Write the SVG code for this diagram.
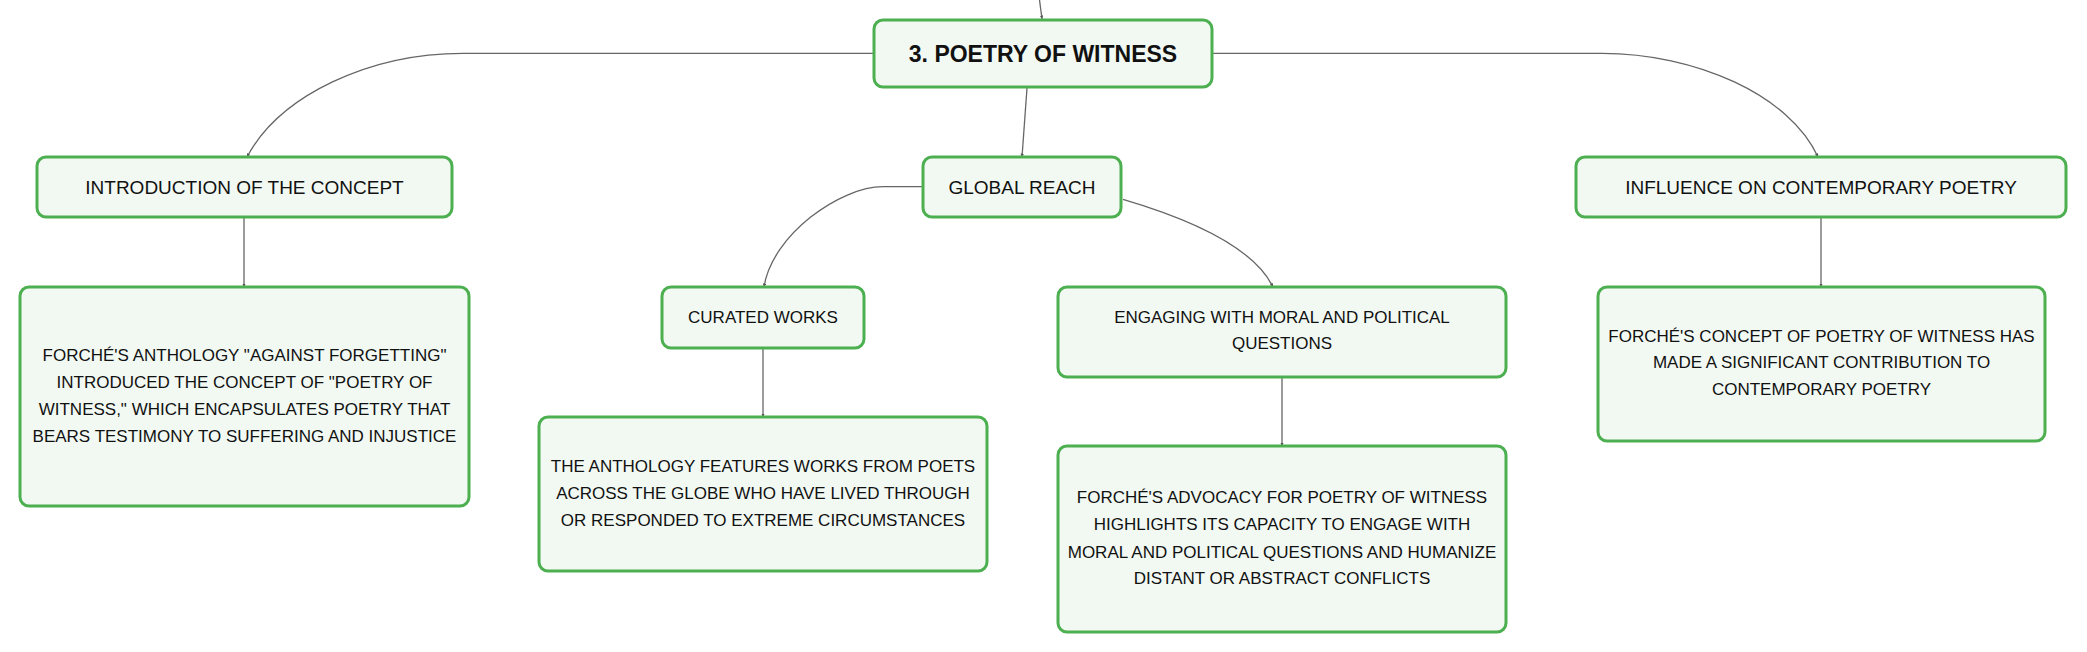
<svg xmlns="http://www.w3.org/2000/svg" width="2087" height="652" viewBox="0 0 2087 652">
<defs>
<marker id="arr" viewBox="0 0 6 6" refX="6" refY="3" markerWidth="3.5" markerHeight="3.5" markerUnits="userSpaceOnUse" orient="auto">
<path d="M0,0 L6,3 L0,6 z" fill="#555"/>
</marker>
</defs>
<style>
.box{fill:#f2f9f3;stroke:#4caf50;stroke-width:3}
.conn{fill:none;stroke:#666;stroke-width:1.3;marker-end:url(#arr)}
.t{font-family:"Liberation Sans",Arial,sans-serif;fill:#111;text-anchor:middle}
.root{font-size:23px;font-weight:bold}
.l1{font-size:19px}
.l2{font-size:17px}
</style>
<rect width="2087" height="652" fill="#ffffff"/>
<g id="connectors">
<path class="conn" d="M1039.5,0 L1042,19"/>
<path class="conn" d="M874,53.3 L463,53.3 C370,53.3 280,95 247,157"/>
<path class="conn" d="M1212,53.3 L1602,53.3 C1695,53.3 1790,95 1818,157"/>
<path class="conn" d="M1027,88 L1022,157"/>
<path class="conn" d="M922,186.7 L883,186.7 C840,186.7 772,235 764,287"/>
<path class="conn" d="M1123,199.3 C1200,222 1255,250 1273,287"/>
<path class="conn" d="M244,217 L244,287"/>
<path class="conn" d="M763,348 L763,417"/>
<path class="conn" d="M1282,377 L1282,446"/>
<path class="conn" d="M1821,217 L1821,287"/>
</g>
<g id="root">
<rect class="box" x="874" y="20" width="338" height="67" rx="9"/>
<text class="t root" x="1043" y="61.5">3. POETRY OF WITNESS</text>
</g>
<g id="intro">
<rect class="box" x="37" y="157" width="415" height="60" rx="9"/>
<text class="t l1" x="244.5" y="193.8">INTRODUCTION OF THE CONCEPT</text>
</g>
<g id="global">
<rect class="box" x="923" y="157" width="198" height="60" rx="9"/>
<text class="t l1" x="1022" y="193.8">GLOBAL REACH</text>
</g>
<g id="influence">
<rect class="box" x="1576" y="157" width="490" height="60" rx="9"/>
<text class="t l1" x="1821" y="193.8">INFLUENCE ON CONTEMPORARY POETRY</text>
</g>
<g id="intro-detail">
<rect class="box" x="20" y="287" width="449" height="219" rx="9"/>
<text class="t l2" x="244.5" y="361">FORCHÉ'S ANTHOLOGY "AGAINST FORGETTING"</text>
<text class="t l2" x="244.5" y="388">INTRODUCED THE CONCEPT OF "POETRY OF</text>
<text class="t l2" x="244.5" y="415">WITNESS," WHICH ENCAPSULATES POETRY THAT</text>
<text class="t l2" x="244.5" y="442">BEARS TESTIMONY TO SUFFERING AND INJUSTICE</text>
</g>
<g id="curated">
<rect class="box" x="662" y="287" width="202" height="61" rx="9"/>
<text class="t l2" x="763" y="322.8">CURATED WORKS</text>
</g>
<g id="curated-detail">
<rect class="box" x="539" y="417" width="448" height="154" rx="9"/>
<text class="t l2" x="763" y="471.8">THE ANTHOLOGY FEATURES WORKS FROM POETS</text>
<text class="t l2" x="763" y="498.5">ACROSS THE GLOBE WHO HAVE LIVED THROUGH</text>
<text class="t l2" x="763" y="525.5">OR RESPONDED TO EXTREME CIRCUMSTANCES</text>
</g>
<g id="engaging">
<rect class="box" x="1058" y="287" width="448" height="90" rx="9"/>
<text class="t l2" x="1282" y="322.8">ENGAGING WITH MORAL AND POLITICAL</text>
<text class="t l2" x="1282" y="349.4">QUESTIONS</text>
</g>
<g id="engaging-detail">
<rect class="box" x="1058" y="446" width="448" height="186" rx="9"/>
<text class="t l2" x="1282" y="503.4">FORCHÉ'S ADVOCACY FOR POETRY OF WITNESS</text>
<text class="t l2" x="1282" y="530.4">HIGHLIGHTS ITS CAPACITY TO ENGAGE WITH</text>
<text class="t l2" x="1282" y="557.8">MORAL AND POLITICAL QUESTIONS AND HUMANIZE</text>
<text class="t l2" x="1282" y="584.4">DISTANT OR ABSTRACT CONFLICTS</text>
</g>
<g id="influence-detail">
<rect class="box" x="1598" y="287" width="447" height="154" rx="9"/>
<text class="t l2" x="1821.5" y="341.8">FORCHÉ'S CONCEPT OF POETRY OF WITNESS HAS</text>
<text class="t l2" x="1821.5" y="368.4">MADE A SIGNIFICANT CONTRIBUTION TO</text>
<text class="t l2" x="1821.5" y="395.4">CONTEMPORARY POETRY</text>
</g>
</svg>
